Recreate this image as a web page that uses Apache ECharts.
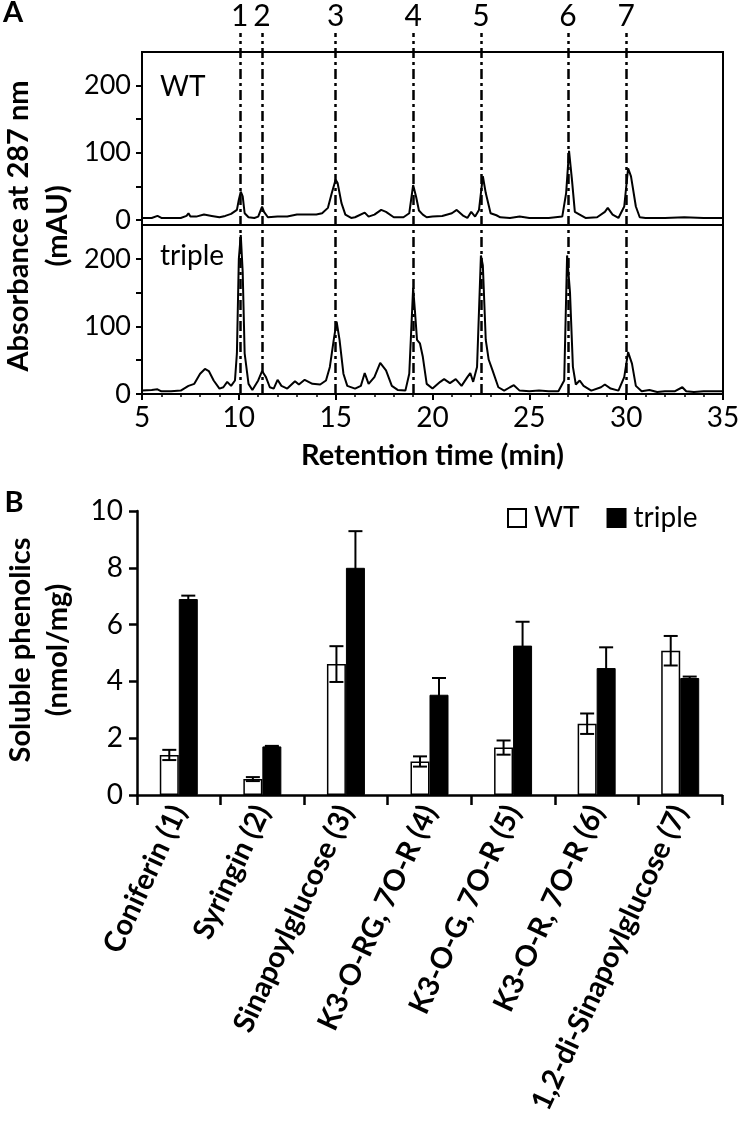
<!DOCTYPE html>
<html>
<head>
<meta charset="utf-8">
<script src="https://cdn.jsdelivr.net/npm/echarts@6/dist/echarts.min.js"></script>
<style>
html,body{margin:0;padding:0;background:#fff;}
#c{width:738px;height:1123px;}
</style>
</head>
<body>
<div id="c"></div>
<script>
// ---------- Panel A data: chromatogram traces [time (min), absorbance (mAU)] ----------
const wtTrace = [
[5.0,3],[5.5,3],[5.8,6],[6.0,3],[6.5,3],[7.0,3],[7.3,6],[7.4,10],[7.5,5],[7.8,5],[8.2,8],[8.6,6],
[9.0,4],[9.3,6],[9.6,9],[9.9,15],[10.0,30],[10.1,42],[10.2,35],[10.3,10],[10.5,4],[10.8,3],
[11.0,5],[11.2,20],[11.3,12],[11.5,4],[12.0,5],[12.5,5],[13.0,8],[13.5,8],[14.0,8],[14.3,10],
[14.6,18],[14.8,40],[15.0,60],[15.1,55],[15.3,25],[15.5,8],[15.8,3],[16.0,4],[16.5,11],[16.7,5],
[17.0,8],[17.35,15],[17.6,12],[18.0,4],[18.5,4],[18.8,10],[19.0,52],[19.15,35],[19.3,14],[19.5,8],
[19.7,4],[20.0,5],[20.5,6],[21.0,10],[21.25,15],[21.6,6],[21.8,3],[22.0,12],[22.2,5],[22.4,15],
[22.6,65],[22.75,40],[23.0,10],[23.3,7],[23.5,4],[24.0,3],[24.5,5],[25.0,3],[26.0,3],[26.7,5],
[26.9,40],[27.05,103],[27.2,60],[27.35,12],[27.6,8],[27.9,3],[28.5,4],[28.9,12],[29.05,18],[29.3,8],
[29.6,3],[29.9,20],[30.1,77],[30.25,65],[30.5,20],[30.7,4],[31.0,3],[32.0,3],[33.0,4],[34.0,3],[35.0,3]
];
const tripleTrace = [
[5.0,5],[5.5,6],[5.8,7],[6.0,4],[6.5,4],[7.0,5],[7.4,12],[7.7,15],[8.0,30],[8.25,37],[8.45,34],
[8.7,20],[9.0,8],[9.2,10],[9.4,18],[9.6,12],[9.8,20],[9.9,60],[10.0,200],[10.1,235],[10.2,180],
[10.3,60],[10.5,15],[10.7,6],[11.0,20],[11.2,34],[11.4,25],[11.6,10],[11.8,8],[12.0,21],[12.2,12],
[12.5,8],[12.9,19],[13.1,14],[13.4,21],[13.8,15],[14.2,14],[14.5,20],[14.7,40],[14.9,80],[15.05,107],
[15.2,80],[15.4,30],[15.6,12],[16.0,8],[16.3,12],[16.5,31],[16.7,15],[17.0,25],[17.3,46],[17.6,35],
[17.9,12],[18.2,6],[18.6,5],[18.8,30],[19.0,157],[19.1,120],[19.2,80],[19.35,75],[19.5,55],[19.7,15],
[20.0,8],[20.4,18],[20.6,22],[20.9,16],[21.2,22],[21.5,12],[21.8,25],[21.95,31],[22.1,18],[22.3,40],
[22.5,205],[22.6,190],[22.75,80],[22.9,51],[23.1,35],[23.4,10],[23.7,5],[24.0,10],[24.2,13],[24.5,5],
[25.0,4],[25.5,5],[26.0,4],[26.5,4],[26.8,20],[26.95,205],[27.1,150],[27.25,40],[27.4,14],[27.6,20],
[27.8,12],[28.2,5],[28.7,10],[28.9,14],[29.2,8],[29.6,5],[29.9,25],[30.1,62],[30.3,45],[30.5,12],
[30.8,4],[31.2,6],[31.6,3],[32.0,4],[32.5,4],[32.9,10],[33.1,4],[33.5,3],[34.0,4],[35.0,4]
];
const peakTimes = [10.05, 11.2, 15.0, 19.0, 22.5, 27.0, 30.0];
const peakLabels = ['1','2','3','4','5','6','7'];
const chromTicks = [0, 50, 100, 150, 200];
const chromLabels = [0, 100, 200];

// ---------- Panel B data ----------
const categories = ['Coniferin (1)','Syringin (2)','Sinapoylglucose (3)','K3-O-RG, 7O-R (4)',
  'K3-O-G, 7O-R (5)','K3-O-R, 7O-R (6)','1,2-di-Sinapoylglucose (7)'];
const wtValues = [1.41, 0.56, 4.61, 1.18, 1.67, 2.51, 5.08];
const wtErrors = [0.18, 0.07, 0.63, 0.18, 0.25, 0.36, 0.52];
const tripleValues = [6.90, 1.71, 8.00, 3.53, 5.26, 4.47, 4.12];
const tripleErrors = [0.12, 0.02, 1.29, 0.59, 0.84, 0.73, 0.05];

// ---------- styling ----------
const FONT = 'Lato';
const BAR_W = 19;
const chart = echarts.init(document.getElementById('c'), null, {renderer: 'canvas'});

function errorSeries(name, values, errors, offset) {
  return {
    type: 'custom', name: name + ' err', xAxisIndex: 3, yAxisIndex: 3, z: 5,
    data: values.map((v, i) => [i, v, errors[i]]),
    encode: {x: 0, y: 1},
    renderItem: function (params, api) {
      const i = api.value(0), v = api.value(1), e = api.value(2);
      const hi = api.coord([i, v + e]);
      const lo = api.coord([i, v - e]);
      const x = hi[0] + offset;
      const cap = 7;
      const st = {stroke: '#000', lineWidth: 2};
      return {type: 'group', children: [
        {type: 'line', shape: {x1: x, y1: hi[1], x2: x, y2: lo[1]}, style: st},
        {type: 'line', shape: {x1: x - cap, y1: hi[1], x2: x + cap, y2: hi[1]}, style: st},
        {type: 'line', shape: {x1: x - cap, y1: lo[1], x2: x + cap, y2: lo[1]}, style: st}
      ]};
    }
  };
}

const chromYAxis = (gi, min) => ({
  gridIndex: gi, type: 'value', min: min, max: 250,
  axisLine: {show: true, onZero: false, lineStyle: {color: '#000', width: 2}},
  axisTick: {show: true, customValues: chromTicks, length: 6, lineStyle: {color: '#000', width: 2}},
  axisLabel: {customValues: chromLabels, fontSize: 27, color: '#000', fontFamily: FONT, margin: 11},
  splitLine: {show: false}
});

const G = {outerBoundsMode: 'none', containLabel: false};
const option = {
  animation: false,
  backgroundColor: '#fff',
  textStyle: {fontFamily: FONT, color: '#000'},
  grid: [
    Object.assign({left: 142, width: 581, top: 52, height: 173, show: true, borderColor: '#000', borderWidth: 2, backgroundColor: 'transparent'}, G),
    Object.assign({left: 142, width: 581, top: 225, height: 169, show: true, borderColor: '#000', borderWidth: 2, backgroundColor: 'transparent'}, G),
    Object.assign({left: 142, width: 581, top: 33, height: 361, show: false}, G),
    Object.assign({left: 137, width: 585, top: 511, height: 284, show: false}, G)
  ],
  xAxis: [
    {gridIndex: 0, type: 'value', min: 5, max: 35, show: false},
    {gridIndex: 1, type: 'value', min: 5, max: 35, interval: 5,
      axisLine: {show: true, onZero: false, lineStyle: {color: '#000', width: 2}},
      axisTick: {show: true, length: 6, lineStyle: {color: '#000', width: 2}},
      minorTick: {show: true, splitNumber: 5, length: 3, lineStyle: {color: '#000', width: 1.5}},
      axisLabel: {fontSize: 28, color: '#000', fontFamily: FONT, margin: 10},
      splitLine: {show: false},
      name: 'Retention time (min)', nameLocation: 'middle', nameGap: 47,
      nameTextStyle: {fontSize: 29, fontWeight: 'bold', color: '#000', fontFamily: FONT}
    },
    {gridIndex: 2, type: 'value', min: 5, max: 35, show: false},
    {gridIndex: 3, type: 'category', data: categories,
      axisLine: {show: true, lineStyle: {color: '#000', width: 2.5}},
      axisTick: {show: true, length: 10, lineStyle: {color: '#000', width: 2.5}},
      axisLabel: {interval: 0, rotate: 65, fontSize: 29, fontWeight: 'bold', color: '#000', fontFamily: FONT, margin: 12}
    }
  ],
  yAxis: [
    chromYAxis(0, -7.5),
    chromYAxis(1, 0),
    {gridIndex: 2, type: 'value', min: 0, max: 1, show: false},
    {gridIndex: 3, type: 'value', min: 0, max: 10, interval: 2,
      axisLine: {show: true, lineStyle: {color: '#000', width: 2.5}},
      axisTick: {show: true, length: 8, lineStyle: {color: '#000', width: 2.5}},
      axisLabel: {fontSize: 28, color: '#000', fontFamily: FONT, margin: 14},
      splitLine: {show: false}
    }
  ],
  legend: {
    left: 502, top: 499, itemWidth: 18, itemHeight: 18, itemGap: 27,
    icon: 'rect',
    data: ['WT', 'triple'],
    textStyle: {fontSize: 28, color: '#000', fontFamily: FONT, padding: [0, 0, 0, 3]}
  },
  graphic: [
    {type: 'text', x: 13, y: 13, style: {text: 'A', font: 'bold 29px Lato', fill: '#000', align: 'center', verticalAlign: 'middle'}},
    {type: 'text', x: 14, y: 503, style: {text: 'B', font: 'bold 29px Lato', fill: '#000', align: 'center', verticalAlign: 'middle'}},
    {type: 'text', x: 38, y: 226, rotation: Math.PI / 2,
      style: {text: 'Absorbance at 287 nm\n(mAU)', font: 'bold 29px Lato', fill: '#000',
        align: 'center', verticalAlign: 'middle', lineHeight: 39}},
    {type: 'text', x: 39.5, y: 650, rotation: Math.PI / 2,
      style: {text: 'Soluble phenolics\n(nmol/mg)', font: 'bold 29px Lato', fill: '#000',
        align: 'center', verticalAlign: 'middle', lineHeight: 37}},
    {type: 'text', x: 160, y: 87, style: {text: 'WT', font: '28px Lato', fill: '#000', verticalAlign: 'middle'}},
    {type: 'text', x: 160, y: 256, style: {text: 'triple', font: '28px Lato', fill: '#000', verticalAlign: 'middle'}}
  ],
  series: [
    {type: 'line', name: 'WT trace', xAxisIndex: 0, yAxisIndex: 0, data: wtTrace, showSymbol: false,
      lineStyle: {color: '#000', width: 2}, z: 3},
    {type: 'line', name: 'triple trace', xAxisIndex: 1, yAxisIndex: 1, data: tripleTrace, showSymbol: false,
      lineStyle: {color: '#000', width: 2}, z: 3},
    {type: 'line', name: 'peaks', xAxisIndex: 2, yAxisIndex: 2, data: [], z: 4,
      markLine: {
        silent: true, symbol: ['none', 'none'], animation: false,
        lineStyle: {color: '#000', width: 2.5, type: [10, 4, 3, 4]},
        label: {show: true, position: 'end', formatter: '{b}', fontSize: 30, color: '#000', fontFamily: FONT, distance: 2},
        data: peakTimes.map((t, i) => ({xAxis: t, name: peakLabels[i]}))
      }
    },
    {type: 'bar', name: 'WT', xAxisIndex: 3, yAxisIndex: 3, data: wtValues, barWidth: BAR_W, barGap: '0%',
      itemStyle: {color: '#fff', borderColor: '#000', borderWidth: 1.5}},
    {type: 'bar', name: 'triple', xAxisIndex: 3, yAxisIndex: 3, data: tripleValues, barWidth: BAR_W, barGap: '0%',
      itemStyle: {color: '#000', borderColor: '#000', borderWidth: 1}},
    errorSeries('WT', wtValues, wtErrors, -BAR_W / 2),
    errorSeries('triple', tripleValues, tripleErrors, BAR_W / 2)
  ]
};
chart.setOption(option);
</script>
</body>
</html>
